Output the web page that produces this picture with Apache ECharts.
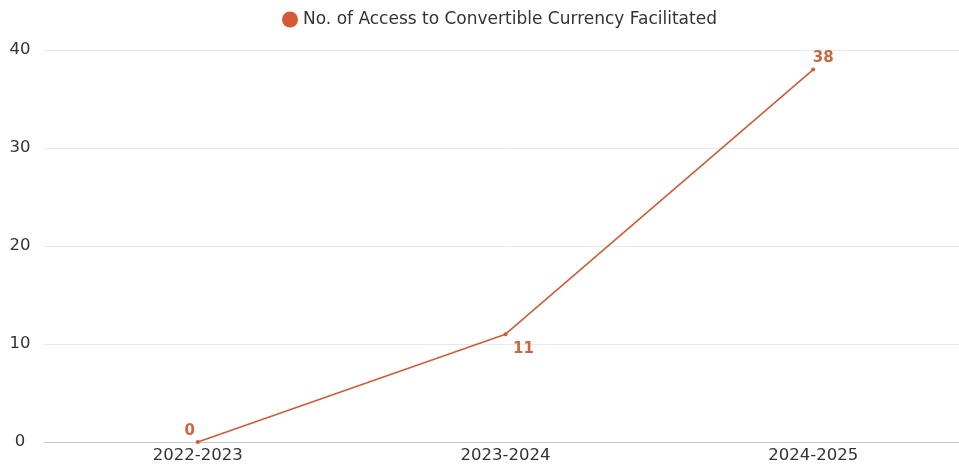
<!DOCTYPE html>
<html>
<head>
<meta charset="utf-8">
<script src="https://cdn.jsdelivr.net/npm/echarts@6/dist/echarts.min.js"></script>
<style>
  html, body { margin: 0; padding: 0; background: #fff; overflow: hidden; }
  #chart { width: 967px; height: 465px; }
</style>
</head>
<body>
<div id="chart"></div>
<script>
// Fiscal years on the x axis
const years = ['2022-2023', '2023-2024', '2024-2025'];
// Number of accesses facilitated per year
const accessCount = [0, 11, 38];
const seriesName = 'No. of Access to Convertible Currency Facilitated';

// Per-point label offsets so labels sit clear of the line
const labelOffsets = [[-8, 4], [18, 29], [10, 3]];

const FONT = '"DejaVu Sans", "Open Sans", sans-serif';

const chart = echarts.init(document.getElementById('chart'));
chart.setOption({
  animation: false,
  textStyle: { fontFamily: FONT },
  legend: {
    top: 6,
    left: 277,
    icon: 'circle',
    itemWidth: 16,
    itemHeight: 16,
    itemGap: 9,
    textStyle: { fontFamily: FONT, fontSize: 17, color: '#333' },
    data: [seriesName]
  },
  grid: { left: 44, right: 0, top: 50, bottom: 23, containLabel: false },
  xAxis: {
    type: 'category',
    data: years,
    boundaryGap: true,
    axisLine: { lineStyle: { color: '#c8c8c8', width: 1 } },
    axisTick: { show: false },
    axisLabel: { color: '#333', fontSize: 16.5, margin: 5, fontFamily: FONT }
  },
  yAxis: {
    type: 'value',
    min: 0,
    max: 40,
    interval: 10,
    axisLine: { show: false },
    axisTick: { show: false },
    splitLine: { lineStyle: { color: '#e8e8e8', width: 1 } },
    axisLabel: { color: '#333', fontSize: 16.5, margin: 24, align: 'center', fontFamily: FONT }
  },
  series: [{
    name: seriesName,
    type: 'line',
    data: accessCount.map((v, i) => ({
      value: v,
      label: { offset: labelOffsets[i] }
    })),
    color: '#dc5a30',
    lineStyle: { color: '#d35b38', width: 1.6 },
    symbol: 'circle',
    symbolSize: 4,
    itemStyle: { color: '#d35b38' },
    label: {
      show: true,
      position: 'top',
      color: '#c8683f',
      fontWeight: 'bold',
      fontSize: 15,
      fontFamily: FONT
    }
  }]
});
</script>
</body>
</html>
